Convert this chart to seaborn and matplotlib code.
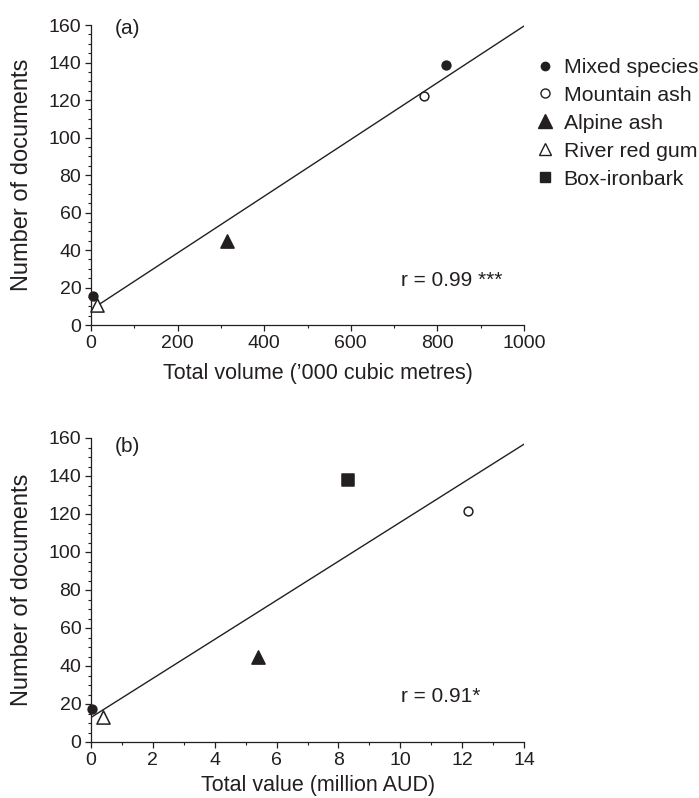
import matplotlib
matplotlib.use("Agg")
import matplotlib.pyplot as plt
from matplotlib.lines import Line2D
from matplotlib.ticker import MultipleLocator
import seaborn as sns
import pandas as pd

# ---- data ----
species = ["Mixed species", "Mountain ash", "Alpine ash", "River red gum", "Box-ironbark"]

# panel (a): total volume ('000 cubic metres) vs number of documents
volume_a = [5, 770, 315, 15, 821]
docs_a = [15.5, 122.3, 45, 10.7, 138.7]
# in panel (a) the top point is drawn with the filled-circle symbol
markers_a = ["o", "o", "^", "^", "o"]

# panel (b): total value (million AUD) vs number of documents
value_b = [0.04, 12.18, 5.4, 0.39, 8.3]
docs_b = [17.5, 121.4, 45, 13, 138]
markers_b = ["o", "o", "^", "^", "s"]

filled = [True, False, True, False, True]
sizes = {"o": 40, "^": 90, "s": 64}

xticks_a = [0, 200, 400, 600, 800, 1000]
xticks_b = [0, 2, 4, 6, 8, 10, 12, 14]
yticks = [0, 20, 40, 60, 80, 100, 120, 140, 160]

r_a = "r = 0.99 ***"
r_b = "r = 0.91*"

INK = "#231f20"

sns.set_theme(style="ticks")
plt.rcParams["font.family"] = ["Liberation Sans", "DejaVu Sans"]
plt.rcParams["text.color"] = INK
plt.rcParams["axes.labelcolor"] = INK
plt.rcParams["xtick.color"] = INK
plt.rcParams["ytick.color"] = INK
plt.rcParams["axes.edgecolor"] = INK

fig = plt.figure(figsize=(6.99, 7.98), dpi=100)
W, H = 699, 798


def axes_px(left, right, top, bottom):
    return fig.add_axes([left / W, 1 - bottom / H, (right - left) / W, (bottom - top) / H])


ax_a = axes_px(91, 524, 25, 325)
ax_b = axes_px(91, 524, 438, 742)


def draw_panel(ax, xs, ys, markers, xlim, xticks, xminor, xlabel, xlabel_y, tag, tag_y, rtext):
    df = pd.DataFrame({"x": xs, "y": ys, "species": species, "marker": markers, "filled": filled})
    ax.set_xlim(*xlim)
    ax.set_ylim(0, 160)
    sns.regplot(data=df, x="x", y="y", ax=ax, scatter=False, ci=None, truncate=False,
                line_kws=dict(color=INK, lw=1.0))
    for _, row in df.iterrows():
        sub = df[df["species"] == row["species"]]
        sns.scatterplot(data=sub, x="x", y="y", ax=ax, marker=row["marker"],
                        s=sizes[row["marker"]],
                        color=INK if row["filled"] else "white",
                        edgecolor=INK, linewidth=1.1, zorder=5, legend=False,
                        clip_on=False)
    ax.set_xlim(*xlim)
    ax.set_ylim(0, 160)
    ax.set_xticks(xticks)
    ax.set_yticks(yticks)
    ax.xaxis.set_minor_locator(MultipleLocator(xminor))
    ax.yaxis.set_minor_locator(MultipleLocator(5))
    ax.tick_params(which="major", direction="out", length=4, width=0.9, labelsize=14, pad=3)
    ax.tick_params(which="minor", direction="out", length=2.5, width=0.8)
    for s in ["top", "right"]:
        ax.spines[s].set_visible(False)
    for s in ["left", "bottom"]:
        ax.spines[s].set_linewidth(0.9)
    ax.set_xlabel(xlabel, fontsize=15.5)
    ax.xaxis.set_label_coords(0.524, xlabel_y)
    ax.set_ylabel("Number of documents", fontsize=17)
    ax.yaxis.set_label_coords(-0.134, 0.5)
    ax.text(0.055, tag_y, tag, transform=ax.transAxes, fontsize=15, va="center", ha="left")
    ax.text(0.715, 0.15, rtext, transform=ax.transAxes, fontsize=15, va="center", ha="left")


draw_panel(ax_a, volume_a, docs_a, markers_a, (0, 1000), xticks_a, 100,
           "Total volume (\u2019000 cubic metres)", -0.125, "(a)", 0.99, r_a)
draw_panel(ax_b, value_b, docs_b, markers_b, (0, 14), xticks_b, 1,
           "Total value (million AUD)", -0.108, "(b)", 0.972, r_b)

leg_markers = ["o", "o", "^", "^", "s"]
leg_sizes = [6.0, 6.5, 9.5, 9.0, 7.0]
handles = [Line2D([], [], linestyle="none", marker=m, markersize=ms,
                  markerfacecolor=INK if f else "white", markeredgecolor=INK,
                  markeredgewidth=1.0)
           for m, ms, f in zip(leg_markers, leg_sizes, filled)]
fig.legend(handles, species, loc="upper left", bbox_to_anchor=(536 / W, 1 - 58 / H),
           frameon=False, fontsize=15.3, handlelength=0.8, handletextpad=0.5,
           labelspacing=0.42, borderaxespad=0, borderpad=0)

fig.savefig("out.png", dpi=100)
